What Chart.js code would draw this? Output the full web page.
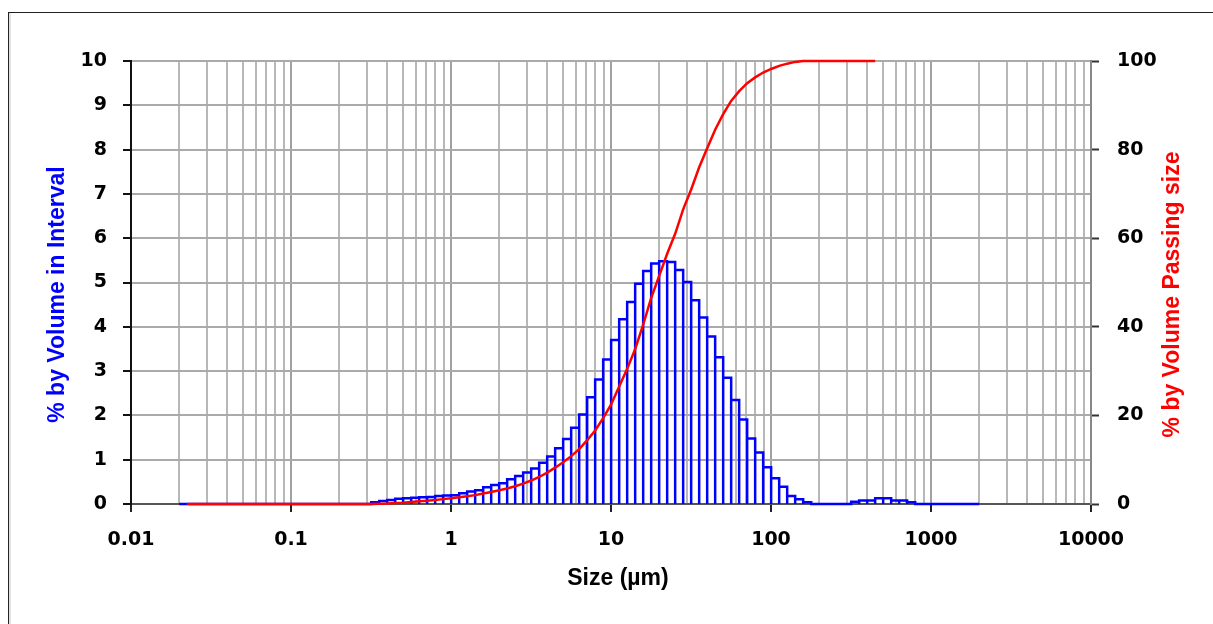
<!DOCTYPE html>
<html><head><meta charset="utf-8">
<script src="https://cdn.jsdelivr.net/npm/chart.js@4.4.1/dist/chart.umd.min.js"></script>
<style>
html,body{margin:0;padding:0;background:#fff;}
#wrap{position:relative;width:1213px;height:624px;overflow:hidden;background:#fff;}
#frame{position:absolute;left:8px;top:12px;width:1400px;height:800px;border-left:1px solid #222;border-top:1px solid #222;box-shadow:inset 2px 0 0 #e2e2e2;}
canvas{position:absolute;left:0;top:0;}
</style></head><body>
<div id="wrap"><div id="frame"></div><canvas id="c" width="1213" height="624"></canvas></div>
<script>
// Size class edges (µm), 101 edges -> 100 intervals
const sizeClasses = [
0.020,0.0224,0.0252,0.0283,0.0317,0.0356,0.0399,0.0448,0.0502,0.0564,
0.0632,0.0710,0.0796,0.0893,0.100,0.112,0.126,0.142,0.159,0.178,
0.200,0.224,0.252,0.283,0.317,0.356,0.399,0.448,0.502,0.564,
0.632,0.710,0.796,0.893,1.002,1.125,1.262,1.416,1.589,1.783,
2.000,2.244,2.518,2.825,3.170,3.557,3.991,4.477,5.024,5.637,
6.325,7.096,7.962,8.934,10.02,11.25,12.62,14.16,15.89,17.83,
20.00,22.44,25.18,28.25,31.70,35.57,39.91,44.77,50.24,56.37,
63.25,70.96,79.62,89.34,100.2,112.5,126.2,141.6,158.9,178.3,
200.0,224.4,251.8,282.5,317.0,355.7,399.1,447.7,502.4,563.7,
632.5,709.6,796.2,893.4,1002,1125,1262,1416,1589,1783,2000];

// % by volume in each interval
const volumeInInterval = [
0,0,0,0,0,0,0,0,0,0,
0,0,0,0,0,0,0,0,0,0,
0,0,0,0,0.04,0.07,0.09,0.12,0.13,0.14,
0.15,0.16,0.18,0.19,0.20,0.24,0.28,0.31,0.38,0.43,
0.47,0.56,0.63,0.71,0.80,0.93,1.07,1.26,1.47,1.72,
2.02,2.41,2.81,3.26,3.70,4.17,4.56,4.97,5.26,5.43,
5.48,5.46,5.28,5.01,4.60,4.21,3.78,3.31,2.85,2.35,
1.91,1.48,1.16,0.83,0.58,0.39,0.18,0.11,0.04,0,
0,0,0,0,0.05,0.08,0.08,0.13,0.13,0.08,
0.08,0.04,0,0,0,0,0,0,0,0];

// % passing at upper edges sizeClasses[1..87]
const passingPct = [
0,0,0,0,0,0,0,0,0,0,0,0,0,0,0,0,0,0,0,0,0,0,0,0,
0.05,0.1,0.2,0.3,0.45,0.6,0.75,0.9,1.1,1.3,
1.5,1.75,2.0,2.35,2.7,3.1,3.5,4.0,4.6,5.3,
6.1,7.1,8.2,9.4,10.8,12.4,14.4,16.6,19.4,22.5,
26.5,30.5,35.0,40.5,46.5,51.5,56.5,61.0,66.5,71.0,
76.0,80.3,84.5,88.0,91.0,93.2,95.0,96.3,97.4,98.2,
98.9,99.4,99.8,100,100,100,100,100,100,100,100,100,100];

const xTickLabels = ['0.01','0.1','1','10','100','1000','10000'];
const xAxisTitle = 'Size (µm)';
const leftAxisTitle = '% by Volume in Interval';
const rightAxisTitle = '% by Volume Passing size';

// Build outline of histogram bars from the arrays
const histPoints = [];
for (let i = 0; i < volumeInInterval.length; i++) {
  const L = sizeClasses[i], R = sizeClasses[i+1], h = volumeInInterval[i];
  histPoints.push({x:L,y:0},{x:L,y:h},{x:R,y:h},{x:R,y:0});
}
const passingPoints = passingPct.map((v,j) => ({x: sizeClasses[j+1], y: v}));

const TICK_FONT = {family:'"DejaVu Sans"', weight:'bold', size:19};
const TITLE_FONT = {family:'"Liberation Sans", Arial, sans-serif', weight:'bold', size:23};

function isDecade(v){ const l = Math.log10(v); return Math.abs(l - Math.round(l)) < 1e-6; }

function patchTitle(scale, dx, dy, flip){
  if (scale.$patched) return;
  scale.$patched = true;
  const orig = scale.drawTitle;
  scale.drawTitle = function(){
    const ctx = this.ctx;
    ctx.save();
    if (flip) {
      const t = this.options.title;
      const lh = Chart.helpers.toFont(t.font).lineHeight;
      const pad = Chart.helpers.toPadding(t.padding).top;
      const cx = this.right - lh/2 - pad;
      const cy0 = (this.top + this.bottom)/2;
      ctx.translate(cx + dx, cy0 + dy);
      ctx.rotate(Math.PI);
      ctx.translate(-cx, -cy0);
    } else {
      ctx.translate(dx, dy);
    }
    orig.call(this);
    ctx.restore();
  };
}

new Chart(document.getElementById('c'), {
  type: 'line',
  data: {
    datasets: [
      {label: rightAxisTitle, data: passingPoints, yAxisID:'y2', xAxisID:'x',
       borderColor:'#ff0000', borderWidth:2.5, pointRadius:0, fill:false, tension:0, clip:false, order:0},
      {label: leftAxisTitle, data: histPoints, yAxisID:'y', xAxisID:'x',
       borderColor:'#0000ff', borderWidth:2.5, pointRadius:0, fill:false, tension:0,
       borderJoinStyle:'miter', clip:false, order:1}
    ]
  },
  options: {
    responsive:false, animation:false,
    layout:{padding:{top:61,left:0,right:0,bottom:0}},
    plugins:{legend:{display:false}, tooltip:{enabled:false}},
    scales:{
      x:{
        type:'logarithmic', position:'bottom', min:0.01, max:10000,
        afterBuildTicks(s){
          const t=[];
          for (let e=-2;e<=4;e++){
            for (let m=1;m<=9;m++){
              const v = m*Math.pow(10,e);
              if (v > 10000*1.0001) break;
              t.push({value:v, major:m===1});
            }
          }
          s.ticks = t;
        },
        afterFit(s){ s.height = 120; patchTitle(s, 7, 0, false); },
        ticks:{autoSkip:false, maxRotation:0, minRotation:0, font:TICK_FONT, color:'#000', padding:17,
          callback:(v)=> isDecade(v) ? xTickLabels[Math.round(Math.log10(v))+2] : ''},
        grid:{
          color:(c)=> (c.tick && isDecade(c.tick.value)) ? '#a0a0a0' : '#b8b8b8',
          lineWidth:2, tickLength:8, tickWidth:2,
          tickColor:(c)=> (c.tick && isDecade(c.tick.value)) ? '#222' : 'rgba(0,0,0,0)'
        },
        border:{color:'#555', width:2},
        title:{display:true, text:xAxisTitle, font:TITLE_FONT, color:'#000', padding:{top:0,bottom:32}}
      },
      y:{
        type:'linear', position:'left', min:0, max:10,
        afterFit(s){ s.width = 131; patchTitle(s, 0, 12, false); },
        ticks:{stepSize:1, font:TICK_FONT, color:'#000', padding:16},
        grid:{color:'#aaaaaa', lineWidth:2, tickLength:8, tickColor:'#111', tickWidth:2},
        border:{color:'#111', width:2},
        title:{display:true, text:leftAxisTitle, color:'#0000ff', font:TITLE_FONT, padding:{top:44}}
      },
      y2:{
        type:'linear', position:'right', min:0, max:100,
        afterFit(s){ s.width = 122; patchTitle(s, 0, 12, true); },
        ticks:{stepSize:20, font:TICK_FONT, color:'#000', padding:18},
        grid:{drawOnChartArea:false, tickLength:8, tickColor:'#333', tickWidth:2},
        border:{color:'#888', width:2},
        title:{display:true, text:rightAxisTitle, color:'#ff0000', font:TITLE_FONT, padding:{top:27}}
      }
    }
  }
});
</script>
</body></html>
